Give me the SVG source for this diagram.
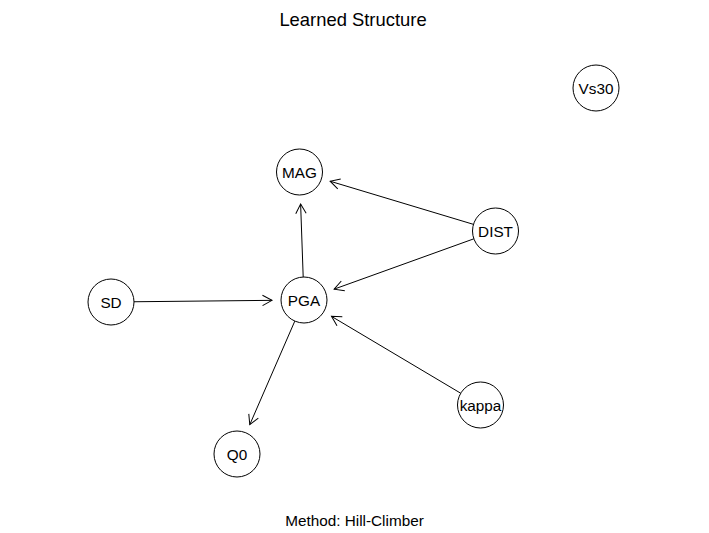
<svg xmlns="http://www.w3.org/2000/svg" width="709" height="533" viewBox="0 0 709 533">
<style>
.node circle{fill:#fff;stroke:#000;stroke-width:1}
.node text{font-family:"Liberation Sans",Arial,sans-serif;font-size:15.3px;fill:#000;text-anchor:middle}
.edge{stroke:#000;stroke-width:1;fill:none;marker-end:url(#arr)}
.title{font-family:"Liberation Sans",Arial,sans-serif;font-size:18.4px;fill:#000;text-anchor:middle}
.sub{font-family:"Liberation Sans",Arial,sans-serif;font-size:15.3px;fill:#000;text-anchor:middle}
</style>
<defs>
<marker id="arr" markerUnits="userSpaceOnUse" orient="auto" refX="0" refY="0" markerWidth="12" markerHeight="12" viewBox="-11 -6 12 12" overflow="visible">
<path d="M-9.5,-5.2 L0,0 L-9.5,5.2" fill="none" stroke="#000" stroke-width="1"/>
</marker>
</defs>
<rect width="709" height="533" fill="#fff"/>
<text class="title" x="353" y="25.5">Learned Structure</text>
<text class="sub" x="354.5" y="525.5">Method: Hill-Climber</text>
<g id="edges">
<line class="edge" x1="134" y1="301.76" x2="272" y2="300.33"/>
<line class="edge" x1="303.19" y1="277.01" x2="300.62" y2="203.98"/>
<line class="edge" x1="473.48" y1="224.37" x2="330.14" y2="181.22"/>
<line class="edge" x1="473.86" y1="238.8" x2="334.11" y2="289.15"/>
<line class="edge" x1="460.73" y1="393.24" x2="331.5" y2="316.36"/>
<line class="edge" x1="294.82" y1="321.09" x2="249.77" y2="424.66"/>
</g>
<g id="node-MAG" class="node"><circle cx="299.5" cy="172" r="23"/><text x="299.5" y="177.5">MAG</text></g>
<g id="node-PGA" class="node"><circle cx="304" cy="300" r="23"/><text x="304" y="305.5">PGA</text></g>
<g id="node-SD" class="node"><circle cx="111" cy="302" r="23"/><text x="111" y="307.5">SD</text></g>
<g id="node-Q0" class="node"><circle cx="237" cy="454" r="23"/><text x="237" y="459.5">Q0</text></g>
<g id="node-DIST" class="node"><circle cx="495.5" cy="231" r="23"/><text x="495.5" y="236.5">DIST</text></g>
<g id="node-kappa" class="node"><circle cx="480.5" cy="405" r="23"/><text x="480.5" y="410.5">kappa</text></g>
<g id="node-Vs30" class="node"><circle cx="596" cy="88" r="23"/><text x="596" y="93.5">Vs30</text></g>
</svg>
